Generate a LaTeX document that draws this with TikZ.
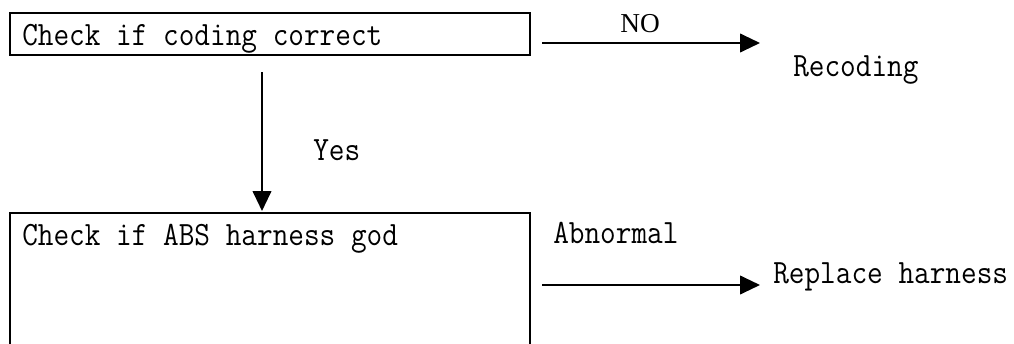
\documentclass[tikz,border=0pt]{standalone}
\usepackage{fontspec}
\newfontfamily\nofont{Liberation Serif}
\usetikzlibrary{arrows.meta}
\newcommand{\talltxt}[1]{\scalebox{1}[1.12]{#1}}
\begin{document}
\begin{tikzpicture}[x=0.75pt,y=-0.75pt,
  boxst/.style={draw=black, line width=1.5pt, inner sep=0pt, anchor=north west},
  txt/.style={anchor=base west, inner sep=0pt, font=\ttfamily\fontsize{22.8}{26}\selectfont},
  arr/.style={line width=1.5pt, -{Triangle[length=15pt,width=14pt]}}]
\useasboundingbox (0,0) rectangle (1014,343);
\clip (0,0) rectangle (1014,343);
\node[boxst, minimum width=390pt, minimum height=31.5pt] (b1) at (9,12) {};
\node[boxst, minimum width=390pt, minimum height=120pt] (b2) at (9,212) {};
\node[txt] (t1) at (22,45) {\talltxt{Check if coding correct}};
\node[txt] (t2) at (22,245) {\talltxt{Check if ABS harness god}};
\node[txt] (rec) at (793,76) {\talltxt{Recoding}};
\node[txt] (rep) at (773,283) {\talltxt{Replace harness}};
\node[txt] (ab) at (553,243) {\talltxt{Abnormal}};
\node[txt] (yes) at (313,160) {\talltxt{Yes}};
\node[anchor=base, inner sep=0pt, font=\nofont\fontsize{20.5}{24}\selectfont] (no) at (640,32) {NO};
\coordinate (v1) at (262,72);
\coordinate (v2) at (262,211);
\coordinate (h1) at (542,43);
\coordinate (h2) at (760,43);
\coordinate (h3) at (542,285);
\coordinate (h4) at (760,285);
\draw[arr] (v1) -- (v2);
\draw[arr] (h1) -- (h2);
\draw[arr] (h3) -- (h4);
\end{tikzpicture}
\end{document}
